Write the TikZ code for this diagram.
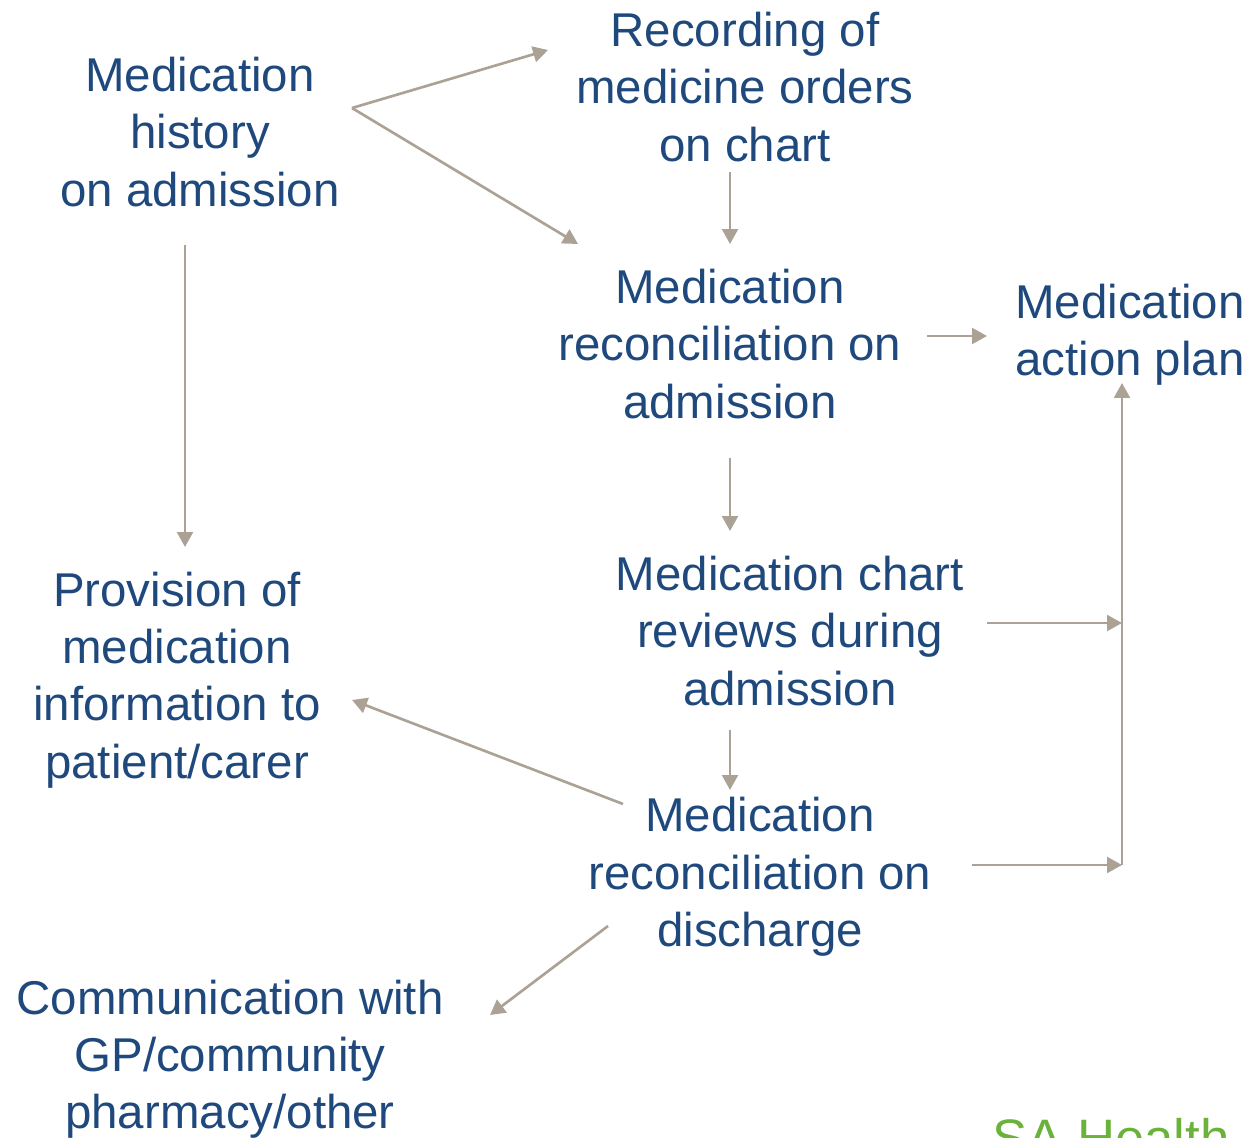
\documentclass[tikz,border=0pt]{standalone}
\usepackage{fontspec}
\setmainfont{Liberation Sans}
\usetikzlibrary{arrows.meta}

\begin{document}
\begin{tikzpicture}[
  x=0.02cm,y=-0.02cm,
  stage/.style={text=textBlue,font=\fontsize{27}{32.6}\selectfont,
                align=center,inner sep=0pt},
  flow/.style={draw=flowGrey,line width=1.5pt,
               -{Triangle[length=8.5pt,width=9pt]}},
]
\definecolor{textBlue}{HTML}{1F497D}
\definecolor{flowGrey}{HTML}{ABA194}
\definecolor{brandGreen}{HTML}{6AB23A}

\useasboundingbox (0,0) rectangle (1260,1138);
\clip (0,0) rectangle (1260,1138);

% Stages of the medication management cycle
\node[stage] (hist)   at (200,132)  {Medication\\history\\on admission};
\node[stage] (rec)    at (745,87)   {Recording of\\medicine orders\\on chart};
\node[stage] (recAdm) at (730,344)  {Medication\\reconciliation on\\admission};
\node[stage] (plan)   at (1130,335) {Medication\\action plan};
\node[stage] (review) at (790,631)  {Medication chart\\reviews during\\admission};
\node[stage] (recDis) at (760,877)  {Medication\\reconciliation on\\discharge};
\node[stage] (prov)   at (177,680)  {Provision of\\medication\\information to\\patient/carer};
\node[stage] (comm)   at (230,1059) {Communication with\\GP/community\\pharmacy/other};

\node[text=brandGreen,font=\fontsize{30}{35}\selectfont,inner sep=0pt,
      anchor=base west] (brand) at (992,1156) {SA Health};

% Ports where the connectors leave and enter the stages
\coordinate (histOut)   at (352,108);
\coordinate (histDown)  at (185,245);
\coordinate (recIn)     at (548,50);
\coordinate (recOut)    at (730,172);
\coordinate (recAdmTop) at (730,244);
\coordinate (recAdmIn)  at (578,244);
\coordinate (recAdmOut) at (927,336);
\coordinate (recAdmLow) at (730,458);
\coordinate (planIn)    at (987,336);
\coordinate (planUp)    at (1122,383);
\coordinate (reviewIn)  at (730,531);
\coordinate (reviewOut) at (987,623);
\coordinate (reviewLow) at (730,730);
\coordinate (recDisIn)  at (730,790);
\coordinate (recDisL)   at (623,804);
\coordinate (recDisR)   at (972,865);
\coordinate (recDisLow) at (608,926);
\coordinate (provIn)    at (352,700);
\coordinate (provTop)   at (185,547);
\coordinate (commIn)    at (490,1015);
\coordinate (busA)      at (1122,623);
\coordinate (busB)      at (1122,865);

\draw[flow] (histOut) -- (recIn);
\draw[flow] (histOut) -- (recAdmIn);
\draw[flow] (histDown) -- (provTop);
\draw[flow] (recOut) -- (recAdmTop);
\draw[flow] (recAdmOut) -- (planIn);
\draw[flow] (recAdmLow) -- (reviewIn);
\draw[flow] (reviewLow) -- (recDisIn);
\draw[flow] (reviewOut) -- (busA);
\draw[flow] (recDisR) -- (busB);
\draw[flow] (recDisL) -- (provIn);
\draw[flow] (recDisLow) -- (commIn);
\draw[flow] (busB) -- (planUp);
\end{tikzpicture}
\end{document}
